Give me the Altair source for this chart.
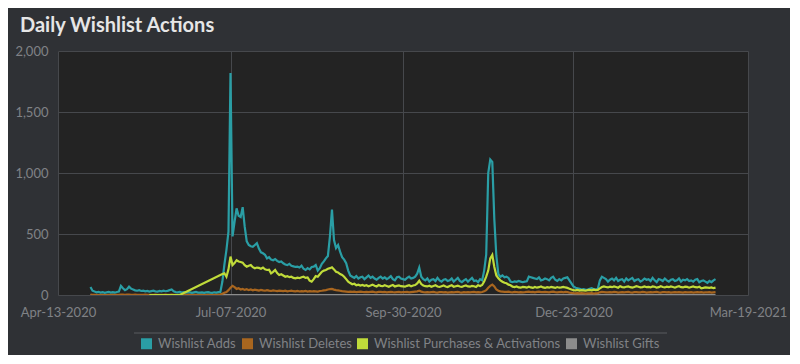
import altair as alt
import pandas as pd

# ---------------- data ----------------
SERIES = ["Wishlist Adds", "Wishlist Deletes",
          "Wishlist Purchases & Activations", "Wishlist Gifts"]
COLORS = ["#2a9ea5", "#a9661f", "#c0db3a", "#8c8c8c"]

# daily values from 2020-04-29 to 2021-03-03
adds_start = "2020-04-29"
adds = [
    65, 35, 28, 22, 25, 20, 24, 18, 22, 26, 20, 23, 19, 25, 28,
    75, 55, 40, 48, 68, 52, 45, 38, 35, 40,
    33, 36, 30, 34, 28, 32, 35, 30, 27, 33,
    30, 35, 31, 34, 40, 45, 30, 24, 22, 26,
    20, 23, 19, 24, 21, 18, 22, 25, 20, 19,
    22, 18, 21, 24, 20, 17, 22, 19, 23, 25,
    110, 250, 370, 520, 1820, 480, 600, 710, 650, 640,
    720, 560, 440, 410, 400, 395, 410, 425, 380, 350,
    342, 330, 300, 310, 290, 285, 295, 280, 270, 275,
    260, 250, 245, 255, 240, 235, 230, 232, 225, 240,
    215, 205, 220, 210, 230, 232, 245, 200, 220, 255,
    275, 300, 320, 480, 700, 450, 385, 410, 355, 310,
    290, 260, 200, 160, 150, 140, 155, 135, 145, 150,
    130, 145, 160, 140, 150, 135, 125, 140, 150, 135,
    145, 130, 140, 155, 130, 120, 145, 150, 135, 130,
    125, 140, 150, 135, 140, 150, 175, 225, 150, 130,
    120, 135, 110, 125, 130, 115, 140, 120, 110, 125,
    130, 115, 120, 135, 110, 125, 140, 115, 105, 120,
    130, 110, 125, 140, 115, 120, 105, 130, 120, 200,
    330, 1000, 1110, 1090, 620, 320, 170, 150, 160, 145,
    150, 140, 110, 105, 112, 108, 115, 110, 105, 110,
    112, 150, 145, 140, 135, 130, 145, 120, 125, 135,
    130, 120, 140, 150, 125, 115, 130, 120, 135, 140,
    145, 120, 96, 70, 60, 55, 50, 45, 48, 42,
    45, 50, 55, 48, 44, 50, 120, 150, 140, 130,
    110, 125, 135, 120, 140, 115, 125, 130, 110, 135,
    120, 130, 140, 115, 125, 130, 110, 120, 135, 125,
    130, 115, 140, 120, 105, 130, 125, 115, 135, 120,
    110, 125, 130, 115, 120, 135, 110, 125, 120, 130,
    115, 120, 110, 125, 130, 105, 115, 120, 110, 100,
    115, 105, 120, 130,
]

deletes_start = "2020-04-29"
deletes = [
    3, 2, 1, 2, 0, 1, 2, 1, 0, 2, 1, 3, 2, 1, 2,
    4, 3, 2, 3, 4, 2, 1, 3, 2, 2,
    1, 2, 3, 2, 1, 2, 2, 3, 1, 2,
    2, 1, 3, 2, 2, 3, 1, 2, 1, 2,
    1, 2, 1, 3, 2, 1, 2, 2, 1, 3,
    2, 1, 2, 3, 2, 1, 2, 3, 4, 6,
    10, 18, 25, 40, 60, 75, 65, 50, 55, 45,
    50, 42, 48, 40, 45, 38, 44, 40, 36, 42,
    38, 35, 40, 36, 33, 38, 35, 32, 36, 34,
    32, 35, 30, 33, 36, 31, 30, 34, 29, 32,
    30, 33, 28, 31, 29, 32, 30, 28, 33, 35,
    38, 40, 45, 48, 50, 44, 40, 38, 35, 32,
    30, 28, 26, 28, 25, 27, 24, 26, 28, 25,
    24, 26, 23, 25, 27, 24, 22, 25, 26, 23,
    25, 22, 24, 26, 23, 21, 24, 25, 22, 24,
    23, 25, 22, 24, 26, 28, 30, 35, 28, 24,
    22, 24, 21, 23, 25, 22, 20, 23, 24, 21,
    23, 20, 22, 24, 21, 23, 25, 22, 20, 23,
    22, 24, 21, 23, 25, 22, 24, 21, 25, 30,
    40, 60, 75, 85, 70, 45, 35, 30, 28, 26,
    25, 27, 24, 22, 25, 23, 21, 24, 22, 23,
    25, 27, 24, 26, 22, 25, 28, 24, 23, 26,
    24, 22, 25, 27, 23, 21, 24, 26, 22, 25,
    23, 20, 18, 15, 14, 16, 13, 15, 14, 12,
    14, 13, 15, 12, 14, 16, 22, 26, 24, 22,
    21, 24, 22, 25, 23, 20, 22, 24, 21, 23,
    25, 22, 20, 23, 24, 21, 22, 25, 23, 20,
    22, 24, 21, 23, 25, 22, 20, 23, 24, 21,
    23, 20, 22, 24, 21, 23, 22, 20, 24, 22,
    21, 23, 20, 22, 24, 21, 23, 20, 22, 21,
    23, 20, 22, 24,
]

# purchases: a short early run, then daily from 2020-07-03
purchases_early_start = "2020-05-28"
purchases_early = [0, 0, 0, 0, 0, 0, 0, 0, 0, 0, 0, 0, 0, 0, 0, 0]
purchases_start = "2020-07-03"
purchases = [
    172, 178, 150, 210, 315, 245, 262, 285, 275, 270,
    265, 245, 232, 240, 246, 228, 219, 225, 222, 215,
    225, 210, 205, 208, 178, 190, 205, 180, 164, 170,
    160, 150, 155, 146, 150, 140, 136, 142, 138, 146,
    150, 140, 144, 118, 109, 130, 155, 150, 170, 190,
    200, 205, 215, 220, 227, 210, 191, 185, 172, 164,
    150, 130, 109, 98, 88, 92, 80, 85, 78, 82,
    75, 80, 72, 78, 85, 76, 70, 82, 75, 72,
    80, 74, 68, 76, 82, 70, 75, 78, 72, 70,
    68, 75, 80, 72, 78, 82, 95, 117, 90, 78,
    72, 70, 76, 68, 74, 80, 70, 66, 72, 78,
    70, 65, 74, 80, 68, 72, 76, 70, 66, 74,
    78, 70, 68, 75, 72, 66, 80, 74, 82, 110,
    150, 200, 300, 328, 230, 160, 136, 120, 109, 100,
    96, 85, 80, 68, 65, 70, 62, 60, 66, 64,
    60, 68, 62, 58, 66, 60, 64, 70, 62, 58,
    64, 60, 66, 62, 58, 65, 60, 63, 67, 62,
    58, 52, 45, 40, 38, 42, 36, 40, 38, 35,
    40, 42, 38, 44, 40, 42, 55, 65, 70, 66,
    62, 68, 64, 70, 66, 60, 72, 65, 62, 68,
    70, 64, 60, 66, 72, 68, 62, 65, 70, 64,
    66, 62, 70, 68, 60, 64, 72, 66, 62, 68,
    64, 70, 66, 60, 68, 72, 64, 62, 68, 66,
    60, 66, 70, 64, 62, 68, 55, 58, 62, 60,
    58, 62, 56, 60,
]

gifts_start = "2020-04-29"
gifts = [0] * len(adds)

Y_TICKS = [0, 500, 1000, 1500, 2000]
X_TICKS = [(2020, 4, 13), (2020, 7, 7), (2020, 9, 30), (2020, 12, 23), (2021, 3, 19)]


# ---------------- table ----------------
def frame(name, start, values):
    d = pd.date_range(start, periods=len(values), freq="D").strftime("%Y-%m-%d")
    return pd.DataFrame({"date": d, "value": values, "series": name})


df = pd.concat([
    frame("Wishlist Gifts", gifts_start, gifts),
    frame("Wishlist Deletes", deletes_start, deletes),
    frame("Wishlist Adds", adds_start, adds),
    frame("Wishlist Purchases & Activations", purchases_early_start, purchases_early),
    frame("Wishlist Purchases & Activations", purchases_start, purchases),
], ignore_index=True)
df["order"] = range(len(df))

legend_df = pd.DataFrame({"series": SERIES})

FONT = "Lato"
GREY = "#808286"


def dt(t):
    return alt.DateTime(year=t[0], month=t[1], date=t[2], utc=True)


lines = alt.Chart(df).mark_line(strokeWidth=2.2, clip=True, interpolate="linear").encode(
    x=alt.X("date:T",
            scale=alt.Scale(type="utc", domain=[dt(X_TICKS[0]), dt(X_TICKS[-1])]),
            axis=alt.Axis(values=[dt(t) for t in X_TICKS], format="%b-%d-%Y",
                          title=None, labelFlush=False, labelPadding=11,
                          ticks=False, domain=False, labelOverlap=False)),
    y=alt.Y("value:Q",
            scale=alt.Scale(domain=[0, 2000], nice=False),
            axis=alt.Axis(values=Y_TICKS, format=",.0f", title=None,
                          labelFlush=False, labelPadding=10,
                          ticks=False, domain=False)),
    stroke=alt.Stroke("series:N", scale=alt.Scale(domain=SERIES, range=COLORS),
                      legend=None),
    detail="series:N",
    order="order:Q",
)

# legend swatches: zero-size squares inside the plot, only the legend shows them
swatches = alt.Chart(legend_df).mark_square(size=0, filled=True, opacity=1).encode(
    x=alt.value(1),
    y=alt.value(243),
    color=alt.Color("series:N", scale=alt.Scale(domain=SERIES, range=COLORS),
                    legend=alt.Legend(title=None, orient="none", direction="horizontal",
                                      legendX=82, legendY=286,
                                      symbolType="square", symbolSize=121,
                                      symbolStrokeWidth=0, symbolOpacity=1,
                                      labelColor=GREY, labelFont=FONT,
                                      labelFontSize=13, labelOffset=5,
                                      labelLimit=400, columnPadding=4)),
)

separator = alt.Chart(legend_df).mark_rule(color="#46484c", strokeWidth=1).encode(
    x=alt.value(76), x2=alt.value(609), y=alt.value(282)
)

chart = alt.layer(lines, separator, swatches).resolve_scale(
    color="independent", stroke="independent"
).properties(
    width=690,
    height=244,
    autosize="none",
    padding={"left": 50, "top": 43, "right": 42, "bottom": 60},
    background="#2f3135",
    title=alt.TitleParams("Daily Wishlist Actions", anchor="start", frame="group",
                          dx=-38, offset=9,
                          font=FONT, fontSize=20, fontWeight="bold",
                          color="#e6e6e6"),
).configure_view(
    fill="#232323", stroke="#232323", strokeWidth=0
).configure_axis(
    grid=True, gridColor="#46484c", gridWidth=1,
    labelColor=GREY, labelFont=FONT, labelFontSize=13,
)

chart.save("out.html", embed_options={"renderer": "svg", "actions": False})
